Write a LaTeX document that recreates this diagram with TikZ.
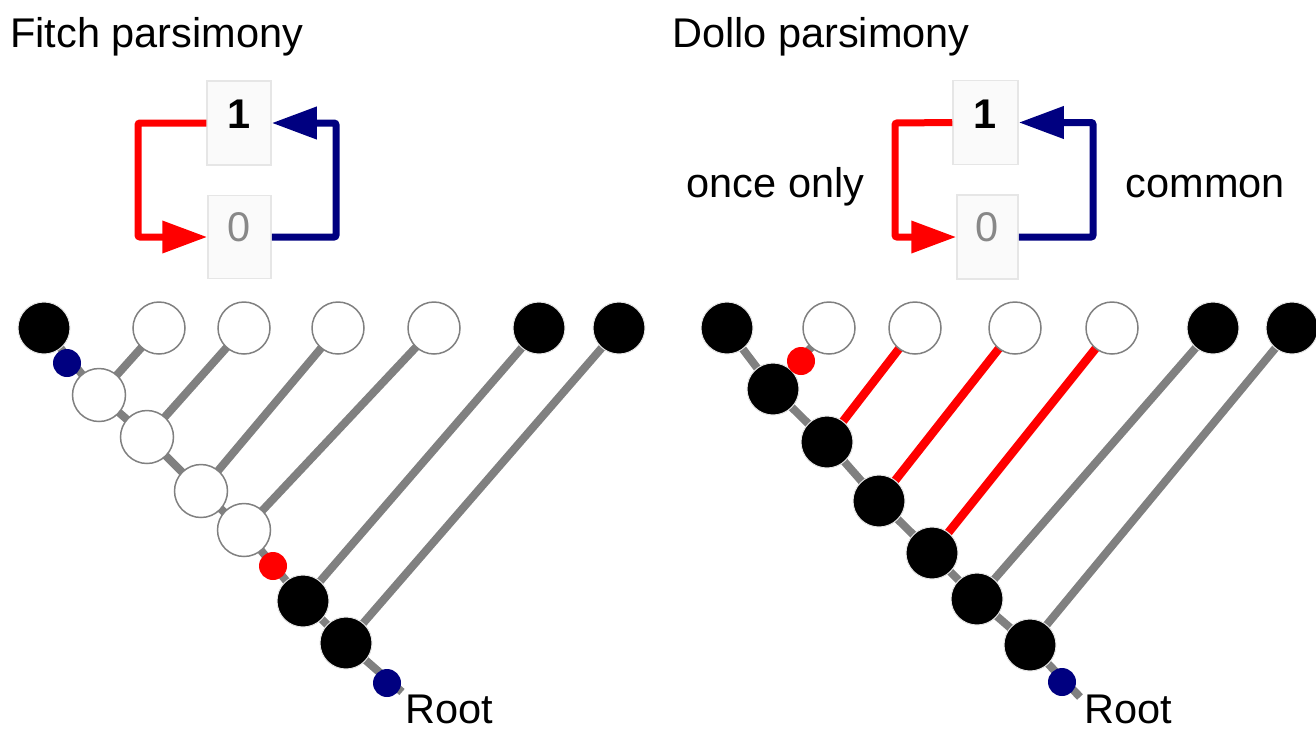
\documentclass[tikz,border=0pt]{standalone}
\usepackage{fontspec}
\setmainfont{Liberation Sans}
\usetikzlibrary{arrows.meta}
\definecolor{edgegray}{HTML}{808080}
\definecolor{navy}{HTML}{000080}
\definecolor{boxfill}{HTML}{FAFAFA}
\definecolor{boxline}{HTML}{E6E6E6}
\definecolor{zerogray}{HTML}{888888}
\tikzset{
  x=1pt, y=-1pt,
  txt/.style={inner sep=0pt, font=\fontsize{41.5}{48}\selectfont, anchor=base west},
  digit/.style={inner sep=0pt, font=\fontsize{41.5}{48}\selectfont, anchor=base},
  statebox/.style={draw=boxline, fill=boxfill, line width=1.5pt, minimum width=64pt, minimum height=84pt, inner sep=0pt},
  edge/.style={draw=edgegray, line width=8pt},
  redge/.style={draw=red, line width=8.5pt},
  wnode/.style={circle, draw=edgegray, fill=white, line width=1.5pt, minimum size=52pt, inner sep=0pt},
  bnode/.style={circle, draw=black!10, fill=black, line width=1pt, minimum size=52pt, inner sep=0pt},
  bdot/.style={circle, fill=navy, minimum size=28pt, inner sep=0pt},
  rdot/.style={circle, fill=red, minimum size=28pt, inner sep=0pt},
  redarrow/.style={draw=red, line width=7pt, rounded corners=2pt, -{Triangle[length=45pt,width=31pt]}},
  bluearrow/.style={draw=navy, line width=7pt, rounded corners=2pt, -{Triangle[length=45pt,width=31pt]}},
}
\begin{document}
\begin{tikzpicture}
\useasboundingbox (0,0) rectangle (1316,732);

% ---------------- Titles and labels ----------------
\node[txt] (t1) at (10,47) {Fitch parsimony};
\node[txt] (t2) at (672,47) {Dollo parsimony};
\node[txt] (once) at (686.5,197) {once only};
\node[txt] (common) at (1125.5,197) {common};
\node[txt] (root1) at (405,723) {Root};
\node[txt] (root2) at (1084,723) {Root};

% ---------------- State boxes (Fitch) ----------------
\node[statebox] (F1) at (239,123) {};
\node[statebox, minimum width=63pt, minimum height=83pt] (F0) at (239.5,237) {};
\node[digit, font=\fontsize{41.5}{48}\selectfont\bfseries] (F1t) at (239,128) {1};
\node[digit, text=zerogray] (F0t) at (239.5,241) {0};
\draw[redarrow] (F1.west) -- (138,123) |- (F0.west);
\draw[bluearrow] (F0.east) -- (336,237) |- (F1.east);

% ---------------- State boxes (Dollo) ----------------
\node[statebox, minimum width=65pt] (D1) at (985.5,122.5) {};
\node[statebox, minimum width=61pt] (D0) at (987.5,237) {};
\node[digit, font=\fontsize{41.5}{48}\selectfont\bfseries] (D1t) at (985.5,128) {1};
\node[digit, text=zerogray] (D0t) at (987.5,241) {0};
\draw[redarrow] (D1.west) -- (895,123) |- (D0.west);
\draw[bluearrow] (D0.east) -- (1093,237) |- (D1.east);

% ---------------- Fitch tree ----------------
\coordinate (FL1) at (44,328);
\coordinate (FL2) at (159,328);
\coordinate (FL3) at (244,328);
\coordinate (FL4) at (338,328);
\coordinate (FL5) at (434,328);
\coordinate (FL6) at (539,328);
\coordinate (FL7) at (619,328);
\coordinate (FN1) at (99,395);
\coordinate (FN2) at (147,437);
\coordinate (FN3) at (201,491);
\coordinate (FN4) at (244,530);
\coordinate (FN5) at (303,601);
\coordinate (FN6) at (346,643);
\coordinate (FR) at (402,692);

\draw[edge] (FL1) -- (FN1) -- (FN2) -- (FN3) -- (FN4) -- (FN5) -- (FN6) -- (FR);
\draw[edge] (FL2) -- (FN1);
\draw[edge] (FL3) -- (FN2);
\draw[edge] (FL4) -- (FN3);
\draw[edge] (FL5) -- (FN4);
\draw[edge] (FL6) -- (FN5);
\draw[edge] (FL7) -- (FN6);

\node[bnode] (fl1) at (FL1) {};
\node[wnode] (fl2) at (FL2) {};
\node[wnode] (fl3) at (FL3) {};
\node[wnode] (fl4) at (FL4) {};
\node[wnode] (fl5) at (FL5) {};
\node[bnode] (fl6) at (FL6) {};
\node[bnode] (fl7) at (FL7) {};
\node[wnode, minimum size=53pt] (fn1) at (FN1) {};
\node[wnode, minimum size=53pt] (fn2) at (FN2) {};
\node[wnode, minimum size=53pt] (fn3) at (FN3) {};
\node[wnode, minimum size=53pt] (fn4) at (FN4) {};
\node[bnode] (fn5) at (FN5) {};
\node[bnode] (fn6) at (FN6) {};

\node[bdot] (fb1) at (67,363) {};
\node[rdot] (fr1) at (273,566) {};
\node[bdot] (fb2) at (387,683) {};

% ---------------- Dollo tree ----------------
\coordinate (DL1) at (727,328);
\coordinate (DL2) at (829,328);
\coordinate (DL3) at (915,328);
\coordinate (DL4) at (1015,328);
\coordinate (DL5) at (1112,328);
\coordinate (DL6) at (1213,328);
\coordinate (DL7) at (1292,328);
\coordinate (DN1) at (773,389);
\coordinate (DN2) at (827,442);
\coordinate (DN3) at (879,501);
\coordinate (DN4) at (932,553);
\coordinate (DN5) at (977,599);
\coordinate (DN6) at (1030,645);
\coordinate (DR) at (1080,697);

\draw[edge] (DL1) -- (DN1) -- (DN2) -- (DN3) -- (DN4) -- (DN5) -- (DN6) -- (DR);
\draw[edge] (DL2) -- (DN1);
\draw[redge] (DL3) -- (DN2);
\draw[redge] (DL4) -- (DN3);
\draw[redge] (DL5) -- (DN4);
\draw[edge] (DL6) -- (DN5);
\draw[edge] (DL7) -- (DN6);

\node[bnode] (dl1) at (DL1) {};
\node[wnode] (dl2) at (DL2) {};
\node[wnode] (dl3) at (DL3) {};
\node[wnode] (dl4) at (DL4) {};
\node[wnode] (dl5) at (DL5) {};
\node[bnode] (dl6) at (DL6) {};
\node[bnode] (dl7) at (DL7) {};
\node[bnode] (dn1) at (DN1) {};
\node[bnode] (dn2) at (DN2) {};
\node[bnode] (dn3) at (DN3) {};
\node[bnode] (dn4) at (DN4) {};
\node[bnode] (dn5) at (DN5) {};
\node[bnode] (dn6) at (DN6) {};

\node[rdot] (dr1) at (801,361) {};
\node[bdot] (db1) at (1062,682) {};
\end{tikzpicture}
\end{document}
